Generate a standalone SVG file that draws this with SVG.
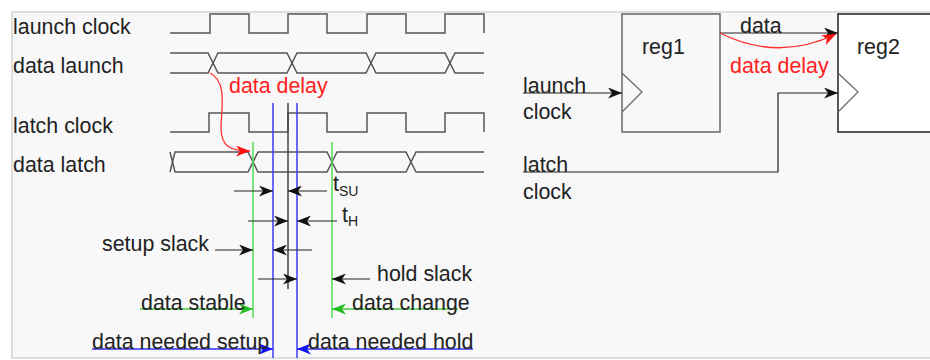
<svg xmlns="http://www.w3.org/2000/svg" width="930" height="360" viewBox="0 0 930 360">
<defs>
<style>
text{font-family:"Liberation Sans",Arial,sans-serif;font-size:21.4px;fill:#222}
.red{fill:#ff2020}
.sub{font-size:14px}
.wave{fill:none;stroke:#555;stroke-width:1.5}
.arr{fill:none;stroke:#222;stroke-width:1.2;marker-end:url(#ah)}
.garr{fill:none;stroke:#44cc44;stroke-width:1.5;marker-end:url(#gh)}
.barr{fill:none;stroke:#3030ff;stroke-width:1.5;marker-end:url(#bh)}
.gv{stroke:#55dd55;stroke-width:1.5}
.bv{stroke:#3a3aff;stroke-width:1.5}
</style>
<marker id="ah" markerUnits="userSpaceOnUse" markerWidth="15" markerHeight="11" refX="14" refY="5.5" orient="auto"><path d="M0,0 L14,5.5 L0,11 L4,5.5 z" fill="#111"/></marker>
<marker id="gh" markerUnits="userSpaceOnUse" markerWidth="15" markerHeight="11" refX="14" refY="5.5" orient="auto"><path d="M0,0 L14,5.5 L0,11 L4,5.5 z" fill="#22bb22"/></marker>
<marker id="bh" markerUnits="userSpaceOnUse" markerWidth="15" markerHeight="11" refX="14" refY="5.5" orient="auto"><path d="M0,0 L14,5.5 L0,11 L4,5.5 z" fill="#1010ff"/></marker>
<marker id="rh" markerUnits="userSpaceOnUse" markerWidth="15" markerHeight="11" refX="14" refY="5.5" orient="auto"><path d="M0,0 L14,5.5 L0,11 L4,5.5 z" fill="#ff1010"/></marker>
</defs>
<rect x="0" y="0" width="930" height="360" fill="#ffffff"/>
<rect x="12" y="12" width="930" height="346" fill="#f8f8f8" stroke="#d4d4d4" stroke-width="1.5"/>

<g id="labels">
<text x="13" y="34">launch clock</text>
<text x="13" y="73">data launch</text>
<text x="13" y="133">latch clock</text>
<text x="13" y="172">data latch</text>
</g>

<g id="waveforms">
<path class="wave" d="M170,33 H210 V14 H249 V33 H288 V14 H327 V33 H367 V14 H406 V33 H445 V14 H484 V33"/>
<path class="wave" d="M170,53 H208 L218,73 H287 L297,53 H366 L376,73 H445 L455,53 H484"/>
<path class="wave" d="M170,73 H208 L218,53 H287 L297,73 H366 L376,53 H445 L455,73 H484"/>
<path class="wave" d="M170,132 H209 V113 H249 V132 H288 V113 H327 V132 H367 V113 H406 V132 H445 V113 H484 V132"/>
<path class="wave" d="M170,152 L175,172 H248 L258,152 H327 L337,172 H406 L416,152 H484"/>
<path class="wave" d="M170,172 L175,152 H248 L258,172 H327 L337,152 H406 L416,172 H484"/>
</g>

<g id="guides">
<line class="gv" x1="253" y1="142" x2="253" y2="318"/>
<line class="gv" x1="332" y1="142" x2="332" y2="318"/>
<line class="bv" x1="273" y1="103" x2="273" y2="358"/>
<line class="bv" x1="297" y1="103" x2="297" y2="358"/>
<line x1="288" y1="103" x2="288" y2="289" stroke="#444" stroke-width="1.5"/>
</g>

<g id="data-delay-timing">
<path d="M210,73 C228,82 221,110 221,128 C221,146 230,151 250,151" fill="none" stroke="#ff3030" stroke-width="1.3" marker-end="url(#rh)"/>
<text class="red" x="229" y="93">data delay</text>
</g>

<g id="connectors">
<line class="arr" x1="234" y1="191" x2="273" y2="191"/>
<line class="arr" x1="327" y1="191" x2="288" y2="191"/>
<line class="arr" x1="248" y1="221" x2="288" y2="221"/>
<line class="arr" x1="337" y1="221" x2="297" y2="221"/>
<line class="arr" x1="215" y1="250" x2="253" y2="250"/>
<line class="arr" x1="312" y1="250" x2="273" y2="250"/>
<line class="arr" x1="258" y1="279" x2="297" y2="279"/>
<line class="arr" x1="370" y1="279" x2="332" y2="279"/>
<line class="garr" x1="140" y1="309" x2="253" y2="309"/>
<line class="garr" x1="458" y1="309" x2="332" y2="309"/>
<line class="barr" x1="92" y1="349" x2="273" y2="349"/>
<line class="barr" x1="473" y1="349" x2="297" y2="349"/>
</g>

<g id="timing-labels">
<text x="333" y="191">t<tspan class="sub" dy="5">SU</tspan></text>
<text x="342" y="222">t<tspan class="sub" dy="4">H</tspan></text>
<text x="102" y="251">setup slack</text>
<text x="377" y="281">hold slack</text>
<text x="141" y="310">data stable</text>
<text x="352" y="310">data change</text>
<text x="92" y="349">data needed setup</text>
<text x="308" y="349">data needed hold</text>
</g>

<g id="reg1">
<rect x="622" y="14" width="98" height="118" fill="#f8f8f8" stroke="#666" stroke-width="1.5"/>
<path d="M622,73 L642,92 L622,112" fill="none" stroke="#666" stroke-width="1.2"/>
<text x="642" y="54">reg1</text>
</g>

<g id="reg2">
<rect x="838" y="14" width="110" height="118" fill="#ffffff" stroke="#222" stroke-width="1.5"/>
<path d="M838,73 L858,92 L838,112" fill="none" stroke="#666" stroke-width="1.2"/>
<text x="857" y="54">reg2</text>
</g>

<g id="circuit-connectors">
<line class="arr" x1="720" y1="33" x2="838" y2="33" stroke="#555"/>
<path d="M720,33 Q778,62 836,34" fill="none" stroke="#ff3030" stroke-width="1.3" marker-end="url(#rh)"/>
<line class="arr" x1="523" y1="93" x2="622" y2="93"/>
<path class="arr" d="M523,172 H778 V93 H838"/>
</g>

<g id="circuit-labels">
<text x="740" y="33">data</text>
<text class="red" x="730" y="73">data delay</text>
<text x="523" y="93">launch</text>
<text x="523" y="119">clock</text>
<text x="523" y="172">latch</text>
<text x="523" y="199">clock</text>
</g>
</svg>
